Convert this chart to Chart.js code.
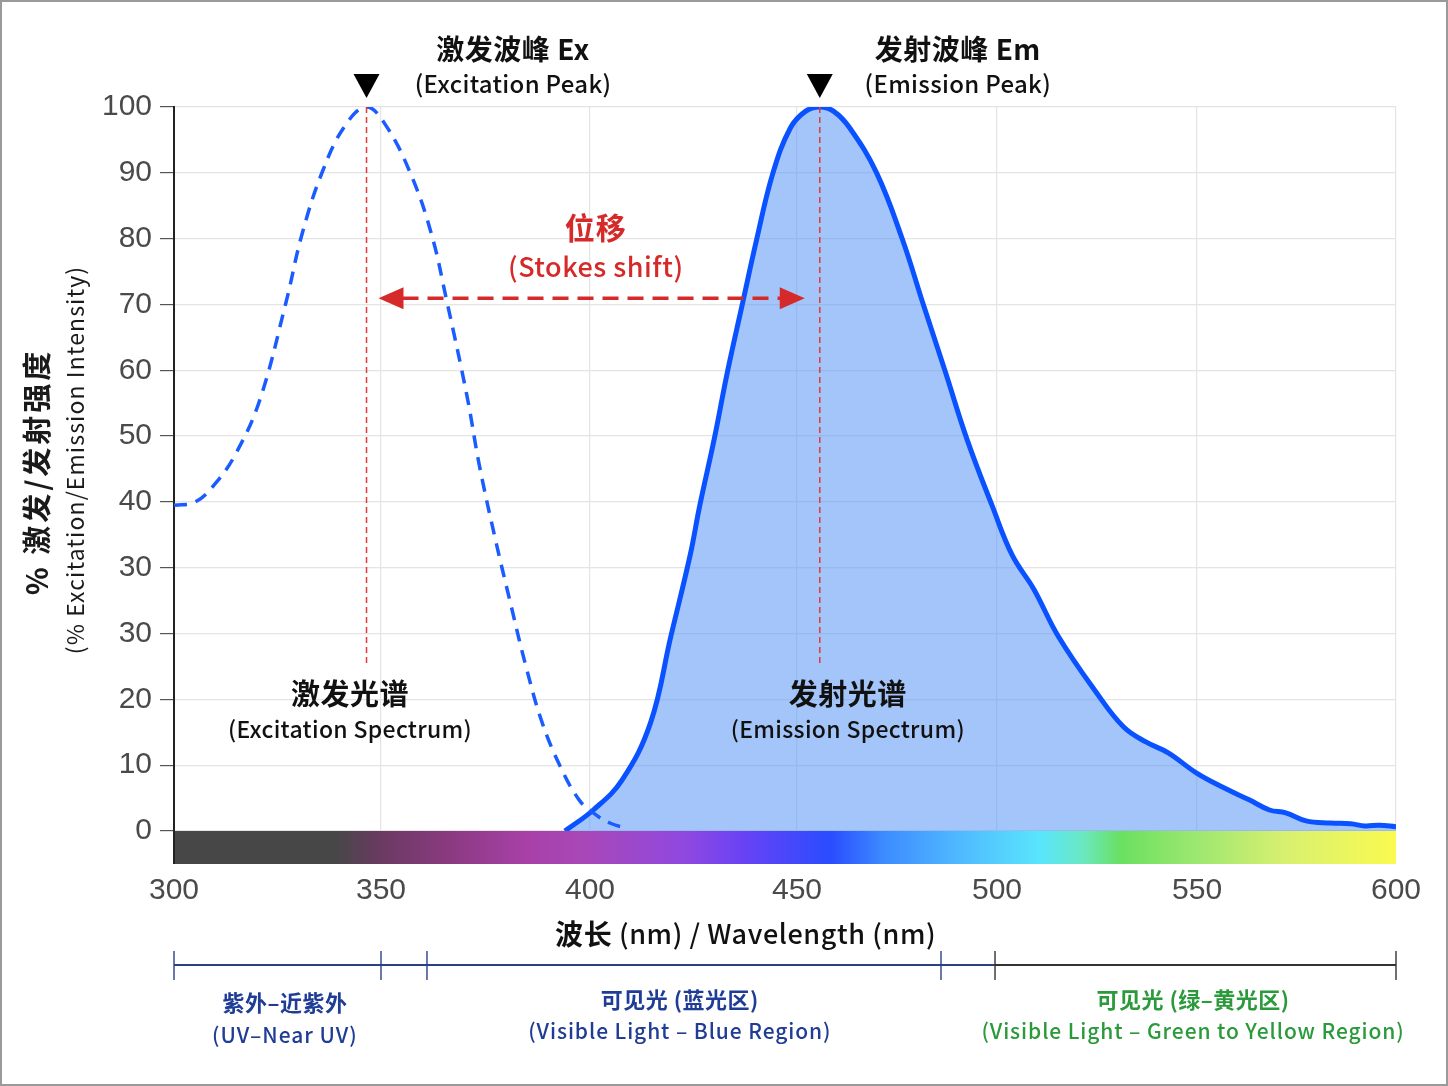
<!DOCTYPE html>
<html>
<head>
<meta charset="utf-8">
<script src="https://cdn.jsdelivr.net/npm/chart.js@4.4.1/dist/chart.umd.min.js"></script>
<style>
  html, body { margin: 0; padding: 0; background: #fff; }
  #wrap { width: 1448px; height: 1086px; }
</style>
</head>
<body>
<div id="wrap"><canvas id="chart"></canvas></div>
<script>
// excitation spectrum (dashed)
const exWavelength = [300, 305, 310, 315, 320.7, 327, 331, 336, 341.3, 346.5, 351, 357, 362, 365.7, 370.6, 373.5, 377.4, 380.8, 384.7, 388.6, 393, 397.4, 400.8, 404.8, 408.7];
const exIntensity  = [45.0, 45.4, 48.0, 52.2, 59.5, 72.9, 82.6, 91.3, 97.4, 100, 97.6, 90.9, 82.6, 73.3, 60.0, 50.6, 40.2, 31.9, 22.7, 14.9, 8.8, 4.3, 2.5, 1.1, 0.4];

// emission spectrum (filled)
const emWavelength = [394, 400.8, 407.7, 414.6, 419.5, 424.2, 426.5, 430, 433.2, 436.7, 440.3, 444.2, 448.4, 452.1, 455.7, 459.2, 463.2, 469.9, 476.3, 481.7, 487.1, 492.5, 498.8, 503.8, 509.2, 515.3, 525, 531.6, 537.2, 542.8, 549.9, 557, 563.1, 568.2, 572.3, 577.4, 583.5, 588.6, 592.2, 595.8, 600];
const emIntensity  = [0, 2.9, 7.0, 14.9, 26.8, 38.1, 44.9, 54.1, 63.4, 72.5, 81.8, 90.9, 97.1, 99.4, 100, 99.4, 97.1, 90.9, 81.8, 72.5, 63.4, 54.1, 44.9, 38.1, 33.4, 26.9, 19.0, 14.4, 12.3, 10.8, 8.0, 5.9, 4.3, 2.9, 2.5, 1.4, 1.1, 1.0, 0.7, 0.8, 0.6];

// x tick values; the original axis is not evenly spaced, knot positions below are fractions of the plot width
const xTicks = [300, 350, 400, 450, 500, 550, 600];
const xTickPos = [0, 0.1694, 0.3404, 0.5098, 0.6735, 0.8372, 1];

// the y axis of the original has 12 evenly spaced ticks (note the repeated 30)
const yTickLabels = ['0', '10', '20', '30', '30', '40', '50', '60', '70', '80', '90', '100'];

const exPeakNm = 346.5;
const emPeakNm = 455.7;

// wavelength regions under the axis
const regionBounds = [300, 350, 361, 486, 499.5, 600];

// visible spectrum colour strip
const stripNm     = [300, 339.1, 349.8, 366.1, 385, 398.8, 422.7, 436.9, 458.3, 472, 490, 511, 521.5, 531, 551, 572, 600];
const stripColors = ['#474747', '#474747', '#6a3a62', '#8a3a80', '#a840a8', '#a848b8', '#9048e0', '#6a42f5', '#2a4cff', '#3d8cff', '#4fb8ff', '#5ae6fc', '#6ae8c0', '#6ae060', '#a0e870', '#d8f070', '#fafa50'];

const CJK = '"Noto Sans CJK SC", "Noto Sans", sans-serif';
const NUM = '"Liberation Sans", Arial, sans-serif';
const RED = '#d62a2a';

// linear scale with a piecewise-linear value -> pixel mapping between the tick knots
class PiecewiseScale extends Chart.LinearScale {
  getPixelForValue(v) {
    let i = 1;
    while (i < xTicks.length - 1 && v > xTicks[i]) i++;
    const f = (v - xTicks[i - 1]) / (xTicks[i] - xTicks[i - 1]);
    return this.getPixelForDecimal(xTickPos[i - 1] + f * (xTickPos[i] - xTickPos[i - 1]));
  }
  getValueForPixel(p) {
    const d = this.getDecimalForPixel(p);
    let i = 1;
    while (i < xTickPos.length - 1 && d > xTickPos[i]) i++;
    const f = (d - xTickPos[i - 1]) / (xTickPos[i] - xTickPos[i - 1]);
    return xTicks[i - 1] + f * (xTicks[i] - xTicks[i - 1]);
  }
}
PiecewiseScale.id = 'piecewise';
PiecewiseScale.defaults = Chart.LinearScale.defaults;
Chart.register(PiecewiseScale);

function txt(ctx, s, x, y, font, color, spacing) {
  ctx.font = font;
  ctx.fillStyle = color;
  ctx.letterSpacing = (spacing || 0) + 'px';
  ctx.textAlign = 'center';
  ctx.textBaseline = 'middle';
  ctx.fillText(s, x, y);
  ctx.letterSpacing = '0px';
}

function runs(ctx, parts, cx, y, color) {
  let total = 0;
  ctx.letterSpacing = '0.6px';
  parts.forEach(p => { ctx.font = p[1]; total += ctx.measureText(p[0]).width; });
  let x0 = cx - total / 2;
  ctx.fillStyle = color;
  ctx.textAlign = 'left';
  ctx.textBaseline = 'middle';
  parts.forEach(p => {
    ctx.font = p[1];
    ctx.fillText(p[0], x0, y);
    x0 += ctx.measureText(p[0]).width;
  });
  ctx.letterSpacing = '0px';
}

function head(ctx, tipX, tipY, dir) {
  ctx.beginPath();
  ctx.moveTo(tipX, tipY);
  ctx.lineTo(tipX - dir * 25, tipY - 11);
  ctx.lineTo(tipX - dir * 25, tipY + 11);
  ctx.closePath();
  ctx.fill();
}

const annotations = {
  id: 'annotations',
  afterDatasetsDraw(chart) {
    const { ctx, chartArea: a, scales: { x, y } } = chart;
    ctx.save();

    // colour strip
    const g = ctx.createLinearGradient(a.left, 0, a.right, 0);
    stripNm.forEach((nm, i) => g.addColorStop((x.getPixelForValue(nm) - a.left) / (a.right - a.left), stripColors[i]));
    ctx.fillStyle = g;
    ctx.fillRect(a.left, a.bottom, a.right - a.left, 33);
    ctx.strokeStyle = '#222';
    ctx.lineWidth = 2;
    ctx.beginPath();
    ctx.moveTo(a.left, a.bottom);
    ctx.lineTo(a.left, a.bottom + 33);
    ctx.stroke();

    // peak markers
    const exX = x.getPixelForValue(exPeakNm);
    const emX = x.getPixelForValue(emPeakNm);
    ctx.strokeStyle = '#e03a3a';
    ctx.lineWidth = 1.5;
    ctx.setLineDash([6, 4]);
    [exX, emX].forEach(px => {
      ctx.beginPath();
      ctx.moveTo(px, y.getPixelForValue(100));
      ctx.lineTo(px, y.getPixelForValue(23));
      ctx.stroke();
    });
    ctx.setLineDash([]);

    ctx.fillStyle = '#000';
    [exX, emX].forEach(px => {
      ctx.beginPath();
      ctx.moveTo(px - 13, a.top - 33);
      ctx.lineTo(px + 13, a.top - 33);
      ctx.lineTo(px, a.top - 9);
      ctx.closePath();
      ctx.fill();
    });

    // Stokes shift arrow
    const ay = y.getPixelForValue(73.6);
    const l = exX + 12, r = emX - 15;
    ctx.strokeStyle = RED;
    ctx.fillStyle = RED;
    ctx.lineWidth = 3.5;
    ctx.setLineDash([16, 9]);
    ctx.beginPath();
    ctx.moveTo(l + 24, ay);
    ctx.lineTo(r - 24, ay);
    ctx.stroke();
    ctx.setLineDash([]);
    head(ctx, l, ay, -1);
    head(ctx, r, ay, 1);

    txt(ctx, '位移', x.getPixelForValue(401.4), y.getPixelForValue(83.3), 'bold 30px ' + CJK, RED, 1);
    txt(ctx, '(Stokes shift)', x.getPixelForValue(401.4), y.getPixelForValue(77.9), '500 27px ' + CJK, RED, 0.5);

    // peak titles
    txt(ctx, '激发波峰 Ex', x.getPixelForValue(381.6), a.top - 58, 'bold 28px ' + CJK, '#111', 0.5);
    txt(ctx, '(Excitation Peak)', x.getPixelForValue(381.6), a.top - 23, '500 24px ' + CJK, '#111', 0.3);
    txt(ctx, '发射波峰 Em', x.getPixelForValue(490.2), a.top - 58, 'bold 28px ' + CJK, '#111', 0.5);
    txt(ctx, '(Emission Peak)', x.getPixelForValue(490.2), a.top - 23, '500 24px ' + CJK, '#111', 0.3);

    // spectrum names
    txt(ctx, '激发光谱', x.getPixelForValue(342.5), y.getPixelForValue(18.9), 'bold 29px ' + CJK, '#111', 0.5);
    txt(ctx, '(Excitation Spectrum)', x.getPixelForValue(342.5), y.getPixelForValue(14.1), '500 23px ' + CJK, '#111', 0.3);
    txt(ctx, '发射光谱', x.getPixelForValue(462.7), y.getPixelForValue(18.9), 'bold 29px ' + CJK, '#111', 0.5);
    txt(ctx, '(Emission Spectrum)', x.getPixelForValue(462.7), y.getPixelForValue(14.1), '500 23px ' + CJK, '#111', 0.3);

    // axis titles
    runs(ctx, [['波长', 'bold 28px ' + CJK], [' (nm) / Wavelength (nm)', '500 27px ' + CJK]], x.getPixelForValue(437.6), 934, '#111');

    ctx.save();
    ctx.translate(37, 472);
    ctx.rotate(-Math.PI / 2);
    txt(ctx, '% 激发/发射强度', 0, 0, 'bold 29px ' + CJK, '#1a1a1a', 3);
    ctx.restore();
    ctx.save();
    ctx.translate(75, 460);
    ctx.rotate(-Math.PI / 2);
    txt(ctx, '(% Excitation/Emission Intensity)', 0, 0, '23px ' + CJK, '#1a1a1a', 1.1);
    ctx.restore();

    // region bracket
    const by = 965;
    const px = regionBounds.map(v => x.getPixelForValue(v));
    ctx.lineWidth = 2.2;
    ctx.strokeStyle = '#2b3f86';
    ctx.beginPath(); ctx.moveTo(px[0], by); ctx.lineTo(px[4], by); ctx.stroke();
    ctx.strokeStyle = '#333';
    ctx.beginPath(); ctx.moveTo(px[4], by); ctx.lineTo(px[5], by); ctx.stroke();
    ctx.lineWidth = 1.4;
    px.forEach((p, i) => {
      ctx.strokeStyle = i >= 4 ? '#333' : '#2b3f86';
      ctx.beginPath(); ctx.moveTo(p, 951); ctx.lineTo(p, 980); ctx.stroke();
    });

    const navy = '#1f3c96', green = '#2a9a3a';
    txt(ctx, '紫外–近紫外', x.getPixelForValue(326.8), 1003, 'bold 22px ' + CJK, navy, 0.5);
    txt(ctx, '(UV–Near UV)', x.getPixelForValue(326.8), 1035, '500 21px ' + CJK, navy, 1);
    txt(ctx, '可见光 (蓝光区)', x.getPixelForValue(421.7), 1000, 'bold 22px ' + CJK, navy, 0.5);
    txt(ctx, '(Visible Light – Blue Region)', x.getPixelForValue(421.7), 1031, '500 21px ' + CJK, navy, 0.9);
    txt(ctx, '可见光 (绿–黄光区)', x.getPixelForValue(549), 1000, 'bold 22px ' + CJK, green, 0.5);
    txt(ctx, '(Visible Light – Green to Yellow Region)', x.getPixelForValue(549), 1031, '500 21px ' + CJK, green, 0.9);

    // outer frame
    ctx.strokeStyle = '#9a9a9a';
    ctx.lineWidth = 2;
    ctx.strokeRect(1, 1, chart.width - 2, chart.height - 2);

    ctx.restore();
  }
};

new Chart(document.getElementById('chart').getContext('2d'), {
  type: 'line',
  data: {
    datasets: [
      {
        label: 'Excitation',
        data: exWavelength.map((w, i) => ({ x: w, y: exIntensity[i] })),
        borderColor: '#1a5cff',
        borderWidth: 3.5,
        borderDash: [13, 9],
        pointRadius: 0,
        fill: false,
        tension: 0.4
      },
      {
        label: 'Emission',
        data: emWavelength.map((w, i) => ({ x: w, y: emIntensity[i] })),
        borderColor: '#0a52ff',
        borderWidth: 5,
        backgroundColor: 'rgba(90, 150, 245, 0.55)',
        pointRadius: 0,
        fill: 'origin',
        tension: 0.4
      }
    ]
  },
  options: {
    responsive: true,
    maintainAspectRatio: false,
    animation: false,
    layout: { padding: { top: 107, right: 52, left: 0, bottom: 0 } },
    plugins: { legend: { display: false }, tooltip: { enabled: false } },
    scales: {
      x: {
        type: 'piecewise',
        min: 300,
        max: 600,
        afterBuildTicks: s => { s.ticks = xTicks.map(v => ({ value: v })); },
        ticks: {
          padding: 42,
          color: '#4a4a4a',
          font: { family: NUM, size: 30 },
          callback: v => String(v)
        },
        grid: { color: '#e4e4e4', lineWidth: 1.2, drawTicks: false },
        border: { display: false },
        afterFit: s => { s.height = 255; s.paddingLeft = 0; s.paddingRight = 0; }
      },
      y: {
        min: 0,
        max: 100,
        afterBuildTicks: s => { s.ticks = yTickLabels.map((_, i) => ({ value: i * 100 / 11 })); },
        ticks: {
          padding: 8,
          color: '#4a4a4a',
          font: { family: NUM, size: 30 },
          callback: (v, i) => yTickLabels[i]
        },
        grid: { color: '#e4e4e4', lineWidth: 1.2, tickColor: '#555', tickLength: 14 },
        border: { color: '#222', width: 2 },
        afterFit: s => { s.width = 174; s.paddingTop = 0; s.paddingBottom = 0; }
      }
    }
  },
  plugins: [annotations]
});
</script>
</body>
</html>
